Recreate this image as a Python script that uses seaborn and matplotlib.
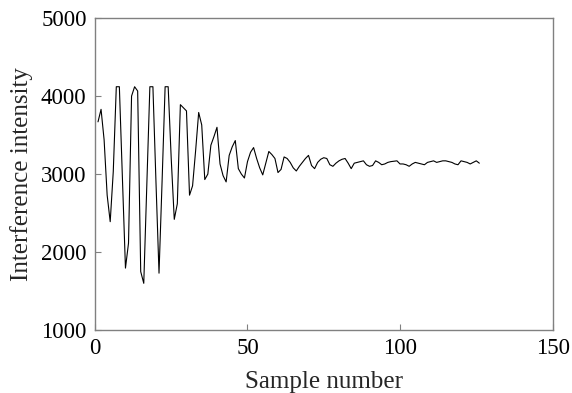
import pandas as pd
import numpy as np
import matplotlib
matplotlib.use('Agg')
import matplotlib.pyplot as plt
import seaborn as sns

# Données
sample = list(range(1, 127))
intensity = [
    3670, 3830, 3440, 2730, 2390, 3030, 4120, 4120, 2950, 1795,
    2115, 4000, 4120, 4065, 1750, 1600, 2860, 4120, 4120, 2900,
    1730, 2900, 4120, 4120, 3200, 2420, 2620, 3890, 3850, 3810,
    2730, 2850, 3300, 3790, 3630, 2930, 3000, 3370, 3480, 3600,
    3130, 2980, 2900, 3240, 3350, 3430, 3070, 3000, 2950, 3160,
    3280, 3340, 3200, 3080, 2990, 3140, 3290, 3250, 3200, 3020,
    3060, 3220, 3200, 3150, 3080, 3040, 3100, 3150, 3200, 3240,
    3110, 3070, 3150, 3190, 3210, 3200, 3120, 3100, 3140, 3170,
    3190, 3200, 3140, 3070, 3140, 3150, 3160, 3170, 3120, 3100,
    3110, 3170, 3150, 3120, 3130, 3150, 3160, 3165, 3170, 3130,
    3130, 3120, 3100, 3130, 3150, 3140, 3130, 3120, 3150, 3160,
    3170, 3150, 3160, 3170, 3170, 3160, 3150, 3130, 3120, 3170,
    3160, 3150, 3130, 3150, 3170, 3140,
]
x_ticks = [0, 50, 100, 150]
y_ticks = [1000, 2000, 3000, 4000, 5000]

df = pd.DataFrame({'sample': sample, 'intensity': intensity})

sns.set_theme(style='white')
plt.rcParams['font.family'] = ['Liberation Serif', 'DejaVu Serif']

fig = plt.figure(figsize=(5.72, 3.93), dpi=100)
ax = fig.add_axes([0.166, 0.160, 0.800, 0.794])

sns.lineplot(data=df, x='sample', y='intensity', ax=ax, color='black', linewidth=0.8)

ax.set_xlim(0, 150)
ax.set_ylim(1000, 5000)
ax.set_xticks(x_ticks)
ax.set_yticks(y_ticks)
ax.tick_params(direction='in', length=4, width=0.8, color='#808080',
               labelsize=16.5, labelcolor='black', top=False, right=False,
               left=True, bottom=True, pad=6)
for s in ax.spines.values():
    s.set_color('#808080')
    s.set_linewidth(1.0)
    s.set_visible(True)

ax.set_xlabel('Sample number', fontsize=18, labelpad=8)
ax.set_ylabel('Interference intensity', fontsize=18, labelpad=6)

plt.savefig('out.png', dpi=100)
plt.close()
